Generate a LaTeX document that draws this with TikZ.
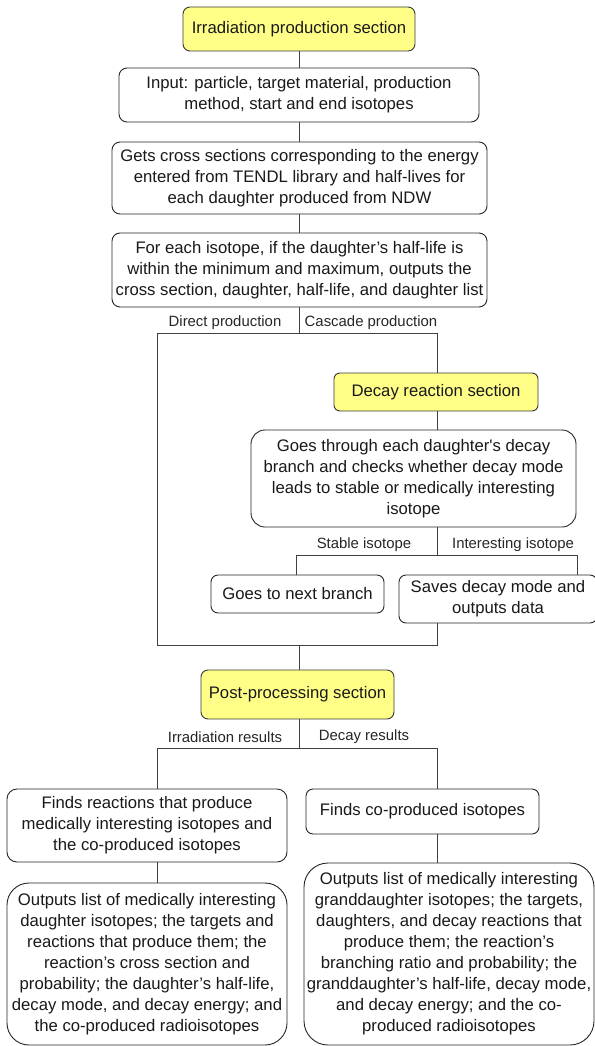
\documentclass[tikz,border=0pt]{standalone}
\usepackage{fontspec}
\setmainfont{Liberation Sans}
\begin{document}
\begin{tikzpicture}[x=1pt,y=-1pt,
  box/.style={draw=black!85, line width=0.9pt, rounded corners=#1, fill=white, align=center,
     inner sep=0pt, font=\fontsize{16.7}{21}\selectfont, text=black!90},
  box/.default=8pt,
  ybox/.style={box=#1, fill=yellowfill, draw=ystroke},
  ybox/.default=7pt,
  conn/.style={draw=black!75, line width=0.9pt},
  lbl/.style={font=\fontsize{14.9}{18}\selectfont, text=black!85, inner sep=0pt}]
\definecolor{yellowfill}{HTML}{FFFF88}
\definecolor{ystroke}{HTML}{36393D}
\useasboundingbox (0,0) rectangle (594,1046);

% column coordinates
\coordinate (cL) at (157,0);
\coordinate (cM) at (299,0);
\coordinate (cR) at (437,0);

\node[ybox, minimum width=232pt, minimum height=44pt] (irr) at (299,29) {Irradiation production section};
\node[box, minimum width=360pt, minimum height=54pt] (inp) at (299,95) {Input: particle, target material, production\\method, start and end isotopes};
\node[box, minimum width=375pt, minimum height=72pt] (gets) at (299.5,178) {Gets cross sections corresponding to the energy\\entered from TENDL library and half-lives for\\each daughter produced from NDW};
\node[box, minimum width=375pt, minimum height=74pt] (each) at (299.5,270) {For each isotope, if the daughter’s half-life is\\within the minimum and maximum, outputs the\\cross section, daughter, half-life, and daughter list};

\coordinate (j1) at (299,333);
\coordinate (j1L) at (157,333);
\coordinate (j1R) at (437,333);
\coordinate (m1L) at (157,645);
\coordinate (m1R) at (437,645);
\coordinate (m1) at (299,645);

\node[ybox=6pt, minimum width=204pt, minimum height=38pt] (decay) at (436,392) {Decay reaction section};
\node[box=14pt, minimum width=325pt, minimum height=97pt] (goes) at (413.5,478.5) {Goes through each daughter\textquotesingle s decay\\branch and checks whether decay mode\\leads to stable or medically interesting\\isotope};

\coordinate (j2) at (437,555);
\coordinate (j2L) at (296,555);
\coordinate (j2R) at (577,555);

\node[box=7pt, minimum width=173pt, minimum height=38pt] (next) at (297.5,594) {Goes to next branch};
\node[box=7pt, minimum width=198pt, minimum height=48pt] (saves) at (498,599) {Saves decay mode and\\outputs data};

\node[ybox=7pt, minimum width=193pt, minimum height=49pt] (post) at (297.5,694.5) {Post-processing section};

\coordinate (j3) at (299,748);
\coordinate (j3L) at (157,748);
\coordinate (j3R) at (437,748);

\node[box=10pt, minimum width=280pt, minimum height=73pt] (finds1) at (147,825.5) {Finds reactions that produce\\medically interesting isotopes and\\the co-produced isotopes};
\node[box=7pt, minimum width=233pt, minimum height=45pt] (finds2) at (422.5,811.5) {Finds co-produced isotopes};
\node[box=22pt, minimum width=280pt, minimum height=162pt] (out1) at (147,964) {Outputs list of medically interesting\\daughter isotopes; the targets and\\reactions that produce them; the\\reaction’s cross section and\\probability; the daughter’s half-life,\\decay mode, and decay energy; and\\the co-produced radioisotopes};
\node[box=24pt, minimum width=290pt, minimum height=182pt] (out2) at (449,954) {Outputs list of medically interesting\\granddaughter isotopes; the targets,\\daughters, and decay reactions that\\produce them; the reaction’s\\branching ratio and probability; the\\granddaughter’s half-life, decay mode,\\and decay energy; and the co-\\produced radioisotopes};

% connectors
\draw[conn] (irr.south -| cM) -- (inp.north -| cM);
\draw[conn] (inp.south -| cM) -- (gets.north -| cM);
\draw[conn] (gets.south -| cM) -- (each.north -| cM);
\draw[conn] (each.south -| cM) -- (j1);
\draw[conn] (m1L) -- (j1L) -- (j1R) -- (decay.north -| cR);
\draw[conn] (decay.south -| cR) -- (goes.north -| cR);
\draw[conn] (goes.south -| cR) -- (j2);
\draw[conn] (next.north -| j2L) -- (j2L) -- (j2R) -- (saves.north -| j2R);
\draw[conn] (saves.south -| cR) -- (m1R) -- (m1L);
\draw[conn] (m1) -- (post.north -| cM);
\draw[conn] (post.south -| cM) -- (j3);
\draw[conn] (finds1.north -| cL) -- (j3L) -- (j3R) -- (finds2.north -| cR);
\draw[conn] (finds1.south -| cL) -- (out1.north -| cL);
\draw[conn] (finds2.south -| cR) -- (out2.north -| cR);

% labels
\node[lbl] (lDirect) at (225,323) {Direct production};
\node[lbl] (lCascade) at (371,323) {Cascade production};
\node[lbl] (lStable) at (364,545) {Stable isotope};
\node[lbl] (lInter) at (513,545) {Interesting isotope};
\node[lbl] (lIrr) at (225,737) {Irradiation results};
\node[lbl] (lDec) at (364,737) {Decay results};
\end{tikzpicture}
\end{document}
